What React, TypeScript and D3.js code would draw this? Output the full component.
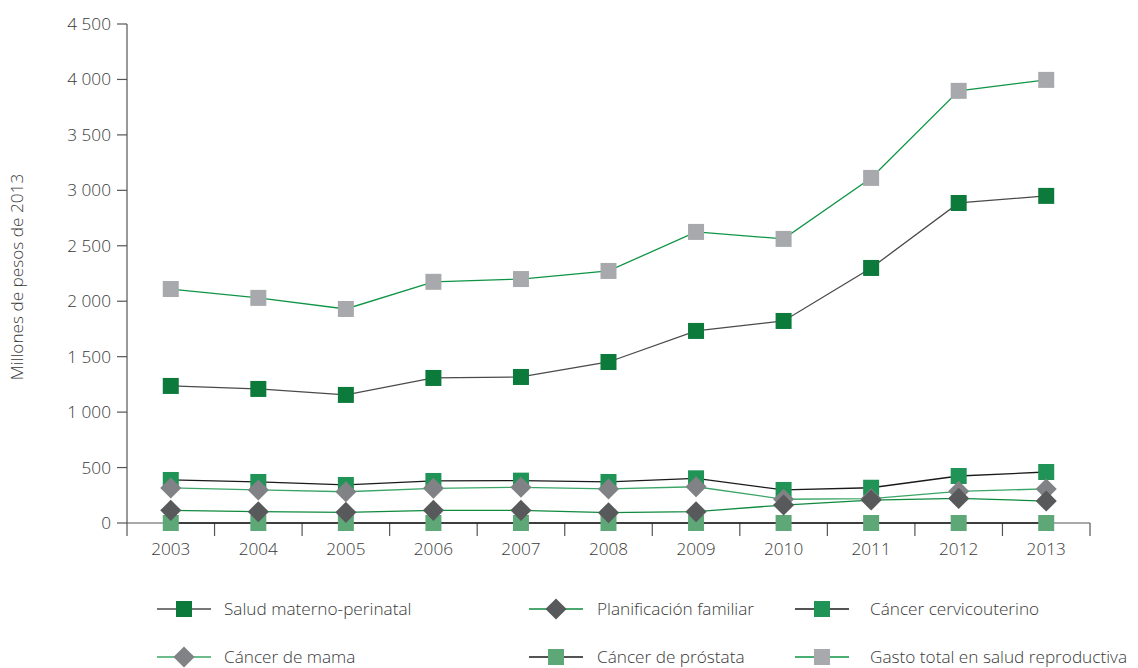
import React from "react";
import * as d3 from "d3";

const years = ["2003","2004","2005","2006","2007","2008","2009","2010","2011","2012","2013"];
const saludMaterno = [1236,1209,1155,1308,1317,1452,1732,1822,2300,2886,2950];
const planificacion = [114,102,96,114,114,93,102,162,207,222,198];
const cervicouterino = [388,370,343,379,382,370,403,298,318,424,460];
const cancerMama = [316,298,282,313,322,307,327,214,219,286,307];
const cancerProstata = [0,0,0,0,0,0,0,0,0,0,0];
const gastoTotal = [2110,2030,1930,2175,2200,2273,2625,2562,3112,3897,3996];
const yTicks = [0,500,1000,1500,2000,2500,3000,3500,4000,4500];

type Series = { name: string; values: number[]; line: string; marker: "square" | "diamond"; fill: string; };

const series: Series[] = [
  { name: "Salud materno-perinatal", values: saludMaterno, line: "#4a4a4a", marker: "square", fill: "#0b7a3b" },
  { name: "Planificación familiar", values: planificacion, line: "#0f8a3f", marker: "diamond", fill: "#58595b" },
  { name: "Cáncer cervicouterino", values: cervicouterino, line: "#1a1a1a", marker: "square", fill: "#1f9456" },
  { name: "Cáncer de mama", values: cancerMama, line: "#3aa567", marker: "diamond", fill: "#808285" },
  { name: "Cáncer de próstata", values: cancerProstata, line: "#1a1a1a", marker: "square", fill: "#5ea878" },
  { name: "Gasto total en salud reproductiva", values: gastoTotal, line: "#0e9445", marker: "square", fill: "#a7a9ac" },
];

const markerOrder = [4, 5, 0, 2, 3, 1];

const fmt = (v: number) => {
  const s = String(v);
  return s.length > 3 ? s.slice(0, s.length - 3) + " " + s.slice(-3) : s;
};

function Marker({ type, x, y, fill, size }: { type: string; x: number; y: number; fill: string; size: number }) {
  if (type === "square") {
    return <rect x={x - size / 2} y={y - size / 2} width={size} height={size} fill={fill} />;
  }
  const h = size * 0.66;
  return <path d={`M${x},${y - h}L${x + h},${y}L${x},${y + h}L${x - h},${y}Z`} fill={fill} />;
}

export default function App() {
  const W = 1138, H = 668;
  const left = 127, right = 1090, top = 24, bottom = 523;
  const x = d3.scaleBand<string>().domain(years).range([left, right]);
  const y = d3.scaleLinear().domain([0, 4500]).range([bottom, top]);
  const cx = (yr: string) => (x(yr) as number) + x.bandwidth() / 2;
  const line = d3.line<number>().x((_, i) => cx(years[i])).y(d => y(d));
  const font = "'Open Sans', 'Noto Sans', sans-serif";
  const textColor = "#3a3a3a";
  const fs = 17.2;

  const legendCols = [157, 529, 795];
  const legendText = [224, 597, 870];
  const legendRows = [609, 657];

  return (
    <svg width={W} height={H} style={{ position: "absolute", left: 0, top: 0, background: "#fff" }} fontFamily={font}>
      {/* y axis */}
      <line x1={left} x2={left} y1={top} y2={bottom} stroke="#555" strokeWidth={1.2} />
      {yTicks.map(t => (
        <g key={t}>
          <line x1={left - 10} x2={left} y1={y(t)} y2={y(t)} stroke="#555" strokeWidth={1.2} />
          <text x={left - 16} y={y(t)} dy="0.35em" textAnchor="end" fontSize={fs} fill={textColor} fontWeight={300}>{fmt(t)}</text>
        </g>
      ))}
      <text transform={`translate(23,${277}) rotate(-90)`} textAnchor="middle" fontSize={fs} fill={textColor} fontWeight={300}>Millones de pesos de 2013</text>
      {/* x axis */}
      <line x1={left} x2={right} y1={bottom} y2={bottom} stroke="#555" strokeWidth={1.2} />
      {years.map(yr => (
        <line key={"t" + yr} x1={x(yr)} x2={x(yr)} y1={bottom} y2={bottom + 13} stroke="#555" strokeWidth={1.2} />
      ))}
      <line x1={right} x2={right} y1={bottom} y2={bottom + 13} stroke="#555" strokeWidth={1.2} />
      {years.map(yr => (
        <text key={"l" + yr} x={cx(yr)} y={bottom + 32} textAnchor="middle" fontSize={fs} fill={textColor} fontWeight={300}>{yr}</text>
      ))}
      {/* lines */}
      {series.map(s => (
        <path key={"p" + s.name} d={line(s.values) || ""} fill="none" stroke={s.line} strokeWidth={1.3} />
      ))}
      {/* markers */}
      {markerOrder.map(i => {
        const s = series[i];
        return (
          <g key={"m" + s.name}>
            {s.values.map((v, j) => (
              <Marker key={j} type={s.marker} x={cx(years[j])} y={y(v)} fill={s.fill} size={16} />
            ))}
          </g>
        );
      })}
      {/* legend */}
      {series.map((s, i) => {
        const lx = legendCols[i % 3];
        const tx = legendText[i % 3];
        const ly = legendRows[Math.floor(i / 3)];
        return (
          <g key={"lg" + s.name}>
            <line x1={lx} x2={lx + 54} y1={ly} y2={ly} stroke={s.line} strokeWidth={1.3} />
            <Marker type={s.marker} x={lx + 27} y={ly} fill={s.fill} size={16} />
            <text x={tx} y={ly} dy="0.35em" fontSize={fs} fill={textColor} fontWeight={300}>{s.name}</text>
          </g>
        );
      })}
    </svg>
  );
}
